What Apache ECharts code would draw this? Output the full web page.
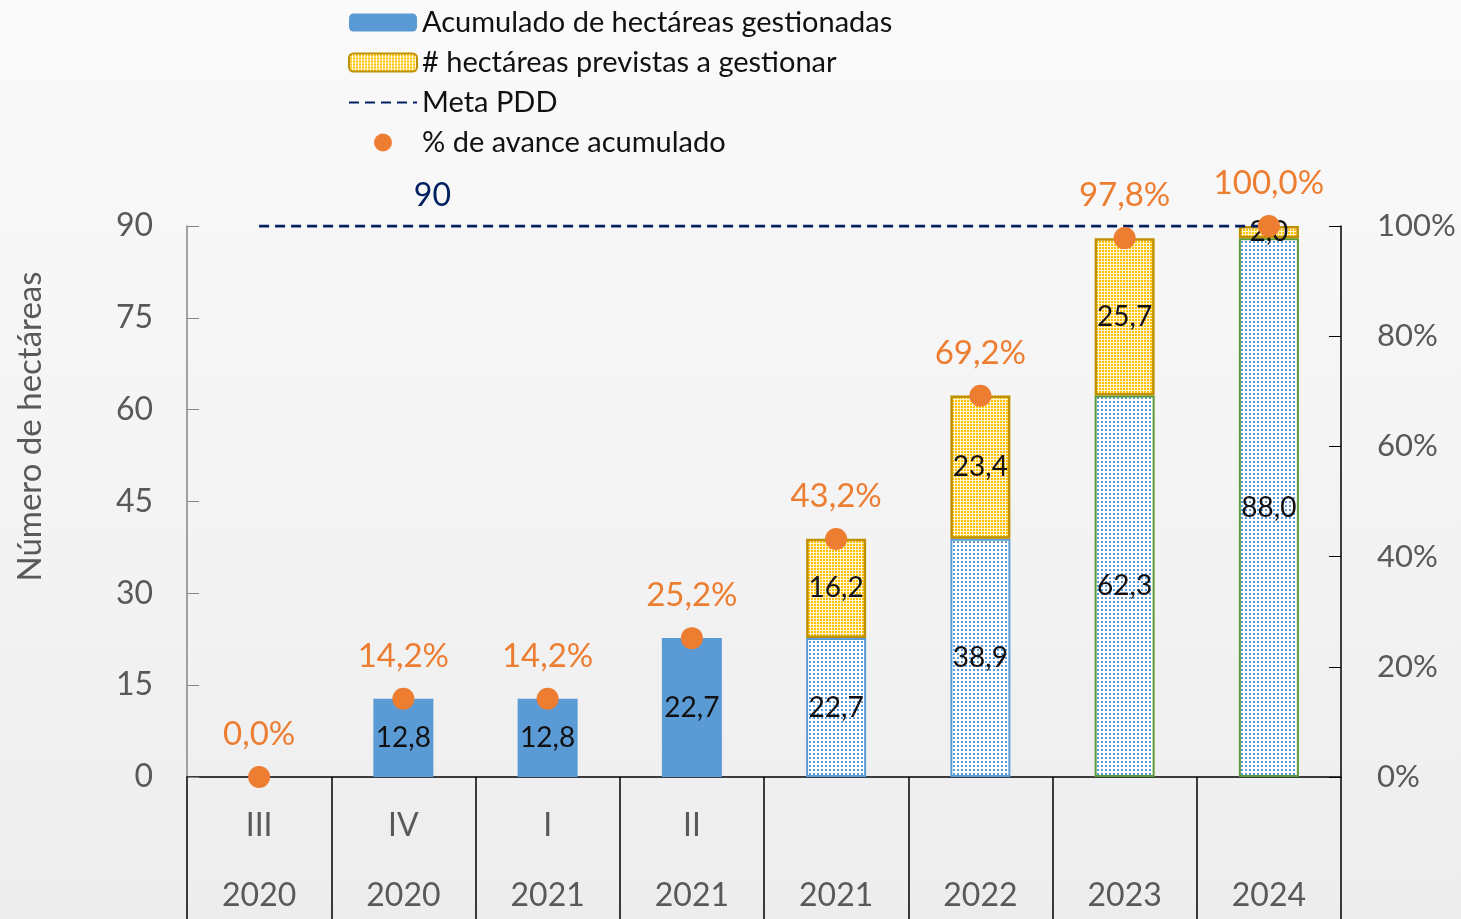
<!DOCTYPE html>
<html>
<head>
<meta charset="utf-8">
<script src="https://cdn.jsdelivr.net/npm/echarts@6/dist/echarts.min.js"></script>
<style>
  * { margin: 0; padding: 0; }
  html, body { width: 1461px; height: 919px; }
</style>
</head>
<body>
<div id="main" style="width: 1461px; height: 919px;"></div>
<script>
  // datos
  var trimestres = ['III', 'IV', 'I', 'II', '', '', '', '']
  var anios = ['2020', '2020', '2021', '2021', '2021', '2022', '2023', '2024']
  var acumulado = [0, 12.8, 12.8, 22.7, 22.7, 38.9, 62.3, 88.0]
  var previstas = [null, null, null, null, 16.2, 23.4, 25.7, 2.0]
  var meta = [90, 90, 90, 90, 90, 90, 90, 90]
  var avance = [0.0, 14.2, 14.2, 25.2, 43.2, 69.2, 97.8, 100.0]

  var fuente = 'Lato, "Open Sans", sans-serif'

  // tramas de puntos
  function trama(tam, fondo, punto) {
    var c = document.createElement('canvas')
    c.width = tam; c.height = tam
    var ctx = c.getContext('2d')
    ctx.fillStyle = fondo
    ctx.fillRect(0, 0, tam, tam)
    ctx.fillStyle = punto
    ctx.fillRect(1, 1, 2, 2)
    return { image: c, repeat: 'repeat' }
  }
  var tramaAzul = trama(4, '#ffffff', '#5b9bd5')
  var tramaAmarilla = trama(3, '#fff6d6', '#ffc000')

  var categorias = anios.map(function (a, i) { return trimestres[i] + '|' + a })

  var datosAcum = acumulado.map(function (v, i) {
    if (i < 4) return v
    return {
      value: v,
      itemStyle: {
        color: tramaAzul,
        borderColor: i < 6 ? '#5b9bd5' : '#5a9a3c',
        borderWidth: 2
      }
    }
  })

  var coma = function (v) { return v.toFixed(1).replace('.', ',') }

  var charts = echarts.init(document.getElementById('main'))
  charts.setOption({
    backgroundColor: {
      type: 'linear', x: 0, y: 0, x2: 0, y2: 1,
      colorStops: [
        { offset: 0, color: '#fafafa' },
        { offset: 0.6, color: '#f3f3f3' },
        { offset: 1, color: '#ededed' }
      ]
    },
    textStyle: { fontFamily: fuente },
    legend: {
      orient: 'vertical',
      left: 343,
      top: 3,
      itemWidth: 68,
      itemHeight: 18,
      itemGap: 11,
      textStyle: { fontSize: 29, color: '#111', fontFamily: fuente },
      data: [
        'Acumulado de hectáreas gestionadas',
        '# hectáreas previstas a gestionar',
        { name: 'Meta PDD', itemStyle: { opacity: 0 } },
        '% de avance acumulado'
      ]
    },
    grid: { left: 187, right: 120, top: 226, bottom: 142 },
    xAxis: {
      type: 'category',
      data: categorias,
      axisLine: { lineStyle: { color: '#000', width: 1.5 } },
      axisTick: { show: true, length: 142, interval: 0, lineStyle: { color: '#000', width: 1.5 } },
      axisLabel: {
        interval: 0,
        margin: 14,
        formatter: function (v) {
          var p = v.split('|')
          return '{a|' + (p[0] || ' ') + '}\n{a|' + p[1] + '}'
        },
        rich: {
          a: { fontSize: 32, lineHeight: 70, color: '#595959', fontFamily: fuente }
        }
      }
    },
    yAxis: [
      {
        type: 'value',
        min: 0, max: 90, interval: 15,
        name: 'Número de hectáreas',
        nameLocation: 'middle',
        nameGap: 140,
        nameTextStyle: { fontSize: 33, color: '#595959', fontFamily: fuente, padding: [0, 0, 0, 150] },
        axisLine: { show: true, lineStyle: { color: '#868686', width: 1.5 } },
        axisTick: { show: true, inside: true, length: 12, lineStyle: { color: '#868686' } },
        axisLabel: { fontSize: 32, color: '#595959', margin: 34 },
        splitLine: { show: false }
      },
      {
        type: 'value',
        min: 0, max: 100, interval: 20,
        position: 'right',
        axisLine: { show: true, lineStyle: { color: '#000', width: 1.5 } },
        axisTick: { show: true, inside: true, length: 12, lineStyle: { color: '#000' } },
        axisLabel: { fontSize: 31, color: '#595959', margin: 36, formatter: '{value}%' },
        splitLine: { show: false }
      }
    ],
    series: [
      {
        name: 'Acumulado de hectáreas gestionadas',
        type: 'bar',
        stack: 'ha',
        barWidth: 60,
        itemStyle: { color: '#5b9bd5' },
        label: {
          show: true,
          position: 'inside',
          fontSize: 28,
          color: '#111',
          fontFamily: fuente,
          formatter: function (p) { return p.value ? coma(p.value) : '' }
        },
        data: datosAcum
      },
      {
        name: '# hectáreas previstas a gestionar',
        type: 'bar',
        stack: 'ha',
        barWidth: 60,
        itemStyle: { color: tramaAmarilla, borderColor: '#bf9000', borderWidth: 2.5 },
        label: {
          show: true,
          position: 'inside',
          fontSize: 28,
          color: '#111',
          fontFamily: fuente,
          formatter: function (p) { return coma(p.value) }
        },
        data: previstas
      },
      {
        name: 'Meta PDD',
        type: 'line',
        symbol: 'circle',
        symbolSize: 0,
        showSymbol: true,
        lineStyle: { color: '#002060', type: [10, 6], width: 3 },
        itemStyle: { color: '#002060' },
        z: 5,
        label: {
          show: true, position: 'top', distance: 5, offset: [29, -9],
          fontSize: 32, color: '#002060', fontFamily: fuente,
          formatter: function (p) { return p.dataIndex === 1 ? p.value : '' }
        },
        data: meta
      },
      {
        name: '% de avance acumulado',
        type: 'scatter',
        yAxisIndex: 1,
        symbolSize: 22,
        itemStyle: { color: '#ed7d31', opacity: 1 },
        z: 6,
        label: {
          show: true,
          position: 'top',
          distance: 15,
          fontSize: 33,
          color: '#ed7d31',
          fontFamily: fuente,
          formatter: function (p) { return coma(p.value) + '%' }
        },
        data: avance
      }
    ]
  })
</script>
</body>
</html>
